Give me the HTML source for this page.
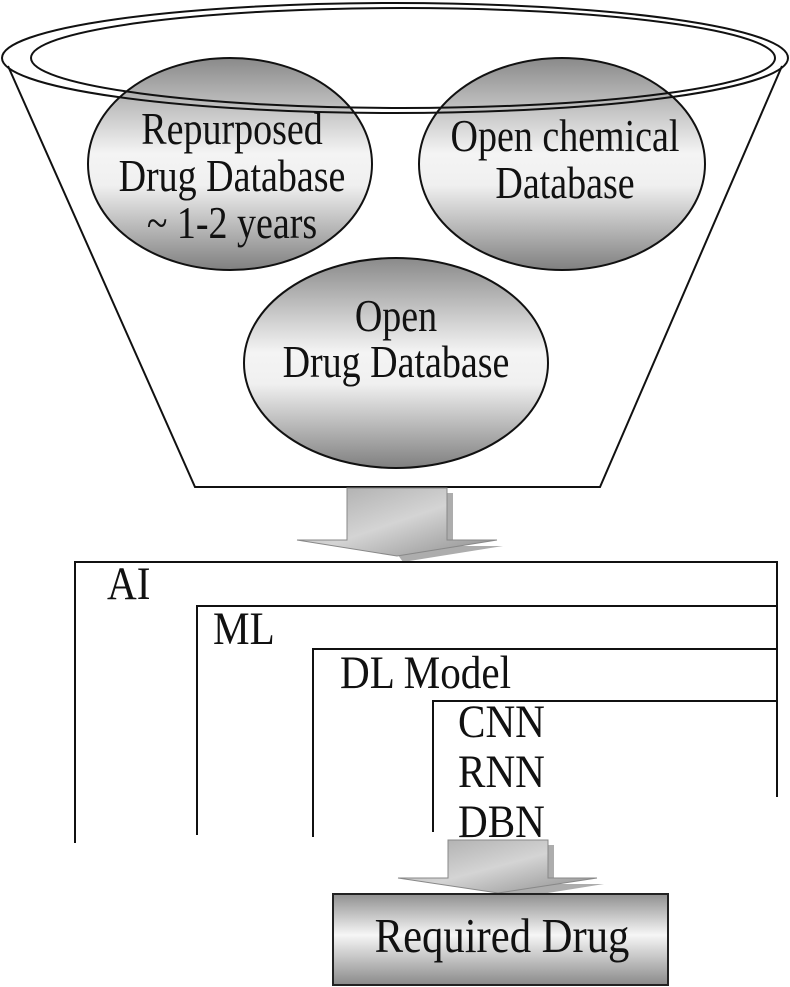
<!DOCTYPE html>
<html><head><meta charset="utf-8"><style>
html,body{margin:0;padding:0;background:#fff;}
svg{display:block;}
text{font-family:"Liberation Serif",serif;fill:#111;}
</style></head><body>
<svg width="790" height="987" viewBox="0 0 790 987" xmlns="http://www.w3.org/2000/svg">
<defs>
<linearGradient id="eg" x1="0" y1="0" x2="0" y2="1">
<stop offset="0" stop-color="#8a8a8a"/>
<stop offset="0.45" stop-color="#f4f4f4"/>
<stop offset="0.6" stop-color="#f0f0f0"/>
<stop offset="1" stop-color="#808080"/>
</linearGradient>
<linearGradient id="bg" x1="0" y1="0" x2="0" y2="1">
<stop offset="0" stop-color="#909090"/>
<stop offset="0.45" stop-color="#f6f6f6"/>
<stop offset="1" stop-color="#8a8a8a"/>
</linearGradient>
<linearGradient id="ag" x1="0" y1="0" x2="1" y2="1">
<stop offset="0" stop-color="#a8a8a8"/>
<stop offset="0.5" stop-color="#d4d4d4"/>
<stop offset="1" stop-color="#8c8c8c"/>
</linearGradient>
</defs>
<polyline points="8,66 195,487 600,487 782,66" fill="none" stroke="#111" stroke-width="2"/>
<ellipse cx="230" cy="164" rx="142" ry="106" fill="url(#eg)" stroke="#111" stroke-width="2"/>
<ellipse cx="562" cy="164" rx="143" ry="106" fill="url(#eg)" stroke="#111" stroke-width="2"/>
<ellipse cx="396" cy="363" rx="152" ry="105" fill="url(#eg)" stroke="#111" stroke-width="2"/>
<ellipse cx="395" cy="58" rx="393" ry="55" fill="none" stroke="#111" stroke-width="2"/>
<ellipse cx="403" cy="58" rx="372" ry="50" fill="none" stroke="#111" stroke-width="2"/>
<g font-size="40" text-anchor="middle">
<text transform="translate(232,144) scale(0.95,1.15)">Repurposed</text>
<text transform="translate(232,191) scale(0.95,1.15)">Drug Database</text>
<text transform="translate(232,238) scale(0.95,1.15)">~ 1-2 years</text>
<text transform="translate(565,151) scale(0.95,1.15)">Open chemical</text>
<text transform="translate(565,198) scale(0.95,1.15)">Database</text>
<text transform="translate(396,331) scale(0.95,1.15)">Open</text>
<text transform="translate(396,377) scale(0.95,1.15)">Drug Database</text>
</g>
<polygon points="353,493 453,493 453,546 503,546 403,562" fill="#999" opacity="0.8"/>
<polygon points="347,488 447,488 447,540 497,540 397,556 297,540 347,540" fill="url(#ag)" stroke="#888" stroke-width="1"/>
<g stroke="#111" stroke-width="2" fill="none">
<polyline points="75,843 75,562 777,562 777,797"/>
<polyline points="197,835 197,606 777,606"/>
<polyline points="313,837 313,649 777,649"/>
<polyline points="433,832 433,701 777,701"/>
</g>
<g font-size="42">
<text transform="translate(107,599) scale(0.98,1.12)">AI</text>
<text transform="translate(213,644) scale(0.98,1.12)">ML</text>
<text transform="translate(340,688) scale(0.98,1.12)">DL Model</text>
<text transform="translate(458,737) scale(0.98,1.12)">CNN</text>
<text transform="translate(458,787) scale(0.98,1.12)">RNN</text>
<text transform="translate(458,837) scale(0.98,1.12)">DBN</text>
</g>
<polygon points="454,845 554,845 554,884 604,884 504,900" fill="#999" opacity="0.8"/>
<polygon points="448,840 548,840 548,878 597,878 498,893 398,878 448,878" fill="url(#ag)" stroke="#888" stroke-width="1"/>
<rect x="333" y="894" width="335" height="91" fill="url(#bg)" stroke="#222" stroke-width="2"/>
<text transform="translate(502,952) scale(0.97,1.1)" font-size="44" text-anchor="middle">Required Drug</text>
</svg>
</body></html>
